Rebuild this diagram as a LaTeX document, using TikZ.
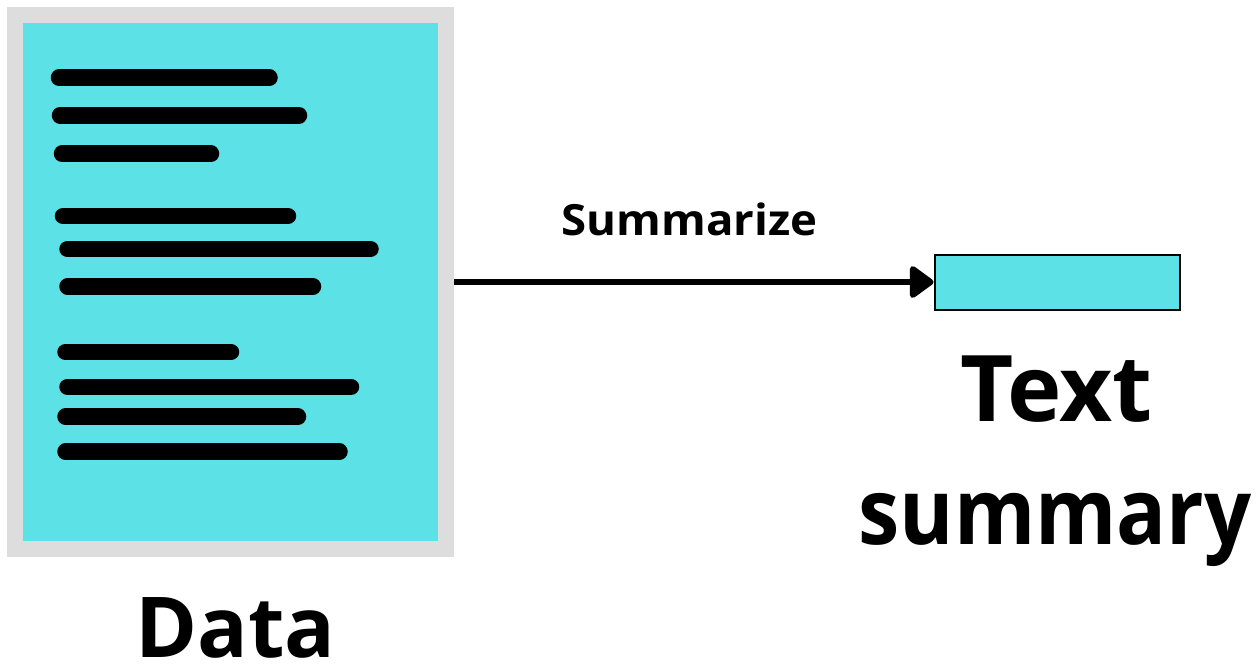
\documentclass[tikz,border=0pt]{standalone}
\usepackage{fontspec}
\setmainfont{Open Sans}
\usetikzlibrary{arrows.meta}
\definecolor{docCyan}{HTML}{5CE1E6}
\definecolor{docGray}{HTML}{DDDDDD}
\tikzset{
  docbox/.style={draw=docGray, line width=16pt, fill=docCyan, minimum width=431pt, minimum height=534pt, inner sep=0pt},
  sumbox/.style={draw=black, line width=2pt, fill=docCyan, minimum width=245pt, minimum height=55pt, inner sep=0pt},
  textline/.style={line width=16.5pt, line cap=round, black},
  flow/.style={line width=6pt, -{Triangle[length=26pt,width=36pt,round]}, line join=round},
  biglabel/.style={font=\bfseries\fontsize{92}{92}\selectfont, anchor=base, inner sep=0pt},
}
\begin{document}
\begin{tikzpicture}[x=1pt,y=-1pt]
\useasboundingbox (0,0) rectangle (1260,665);
\node[docbox] (doc) at (230.5,282) {};
\node[sumbox] (sum) at (1057,282) {};
% text lines inside the document
\draw[textline] (59,77.7) -- (269.5,77.7);
\draw[textline] (60,115.3) -- (299,115.3);
\draw[textline] (62,153.7) -- (211,153.7);
\draw[textline] (63,216) -- (288,216);
\draw[textline] (67.5,249) -- (370.5,249);
\draw[textline] (67.5,286.5) -- (313,286.5);
\draw[textline] (65.5,352) -- (231,352);
\draw[textline] (67.5,386.8) -- (351,386.8);
\draw[textline] (65.5,416.7) -- (298,416.7);
\draw[textline] (65.5,451.7) -- (339.5,451.7);
% connector
\draw[flow] (doc.east) -- (sum.west);
\node[font=\bfseries\fontsize{43}{43}\selectfont\addfontfeature{FakeStretch=1.06}, anchor=base, inner sep=0pt] (lbl) at (689.5,235) {Summarize};
% labels
\node[font=\bfseries\fontsize{84}{84}\selectfont, anchor=base, inner sep=0pt] (data) at (235.5,657) {Data};
\node[biglabel] (t1) at (1056.5,421) {Text};
\node[biglabel, font=\bfseries\fontsize{92}{92}\selectfont\addfontfeature{FakeStretch=0.9}] (t2) at (1055,544) {summary};
\end{tikzpicture}
\end{document}
